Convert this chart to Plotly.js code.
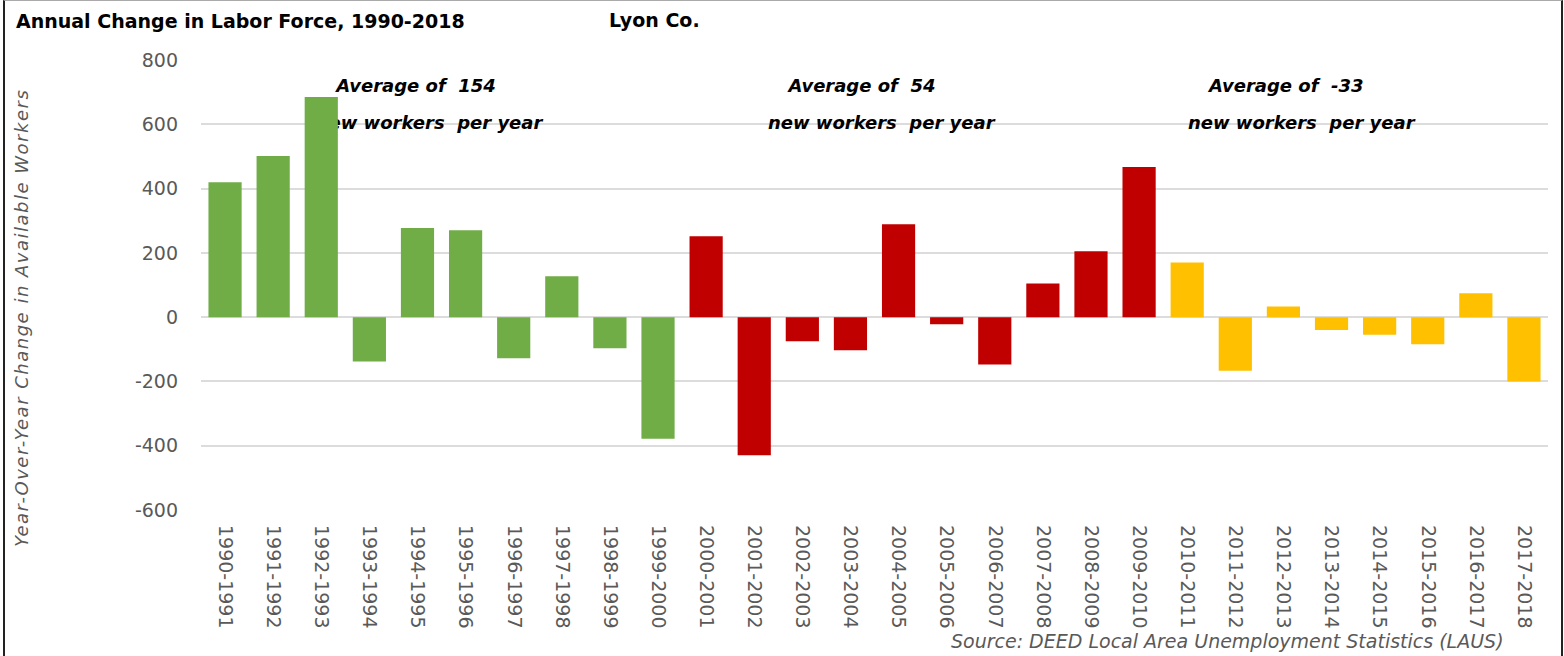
<!DOCTYPE html>
<html>
<head>
<meta charset="utf-8">
<script src="https://cdn.plot.ly/plotly-3.0.1.min.js"></script>
<style>
  body { margin: 0; background: #fff; }
  #chart { position: absolute; left: 0; top: 0; width: 1564px; height: 656px; }
  #frame {
    position: absolute; left: 3px; top: 0; width: 1556px; height: 660px;
    border-left: 2px solid #222; border-top: 1px solid #aaa; border-right: 2px solid #222;
    pointer-events: none;
  }
</style>
</head>
<body>
<div id="chart"></div>
<div id="frame"></div>
<script>
// year-over-year change in labor force, Lyon Co.
const periods = [
  "1990-1991", "1991-1992", "1992-1993", "1993-1994", "1994-1995",
  "1995-1996", "1996-1997", "1997-1998", "1998-1999", "1999-2000",
  "2000-2001", "2001-2002", "2002-2003", "2003-2004", "2004-2005",
  "2005-2006", "2006-2007", "2007-2008", "2008-2009", "2009-2010",
  "2010-2011", "2011-2012", "2012-2013", "2013-2014", "2014-2015",
  "2015-2016", "2016-2017", "2017-2018"
];
const changes = [
  420, 501, 685, -138, 277, 270, -128, 127, -97, -378,
  252, -430, -75, -103, 289, -22, -147, 105, 205, 467,
  170, -167, 33, -40, -55, -84, 74, -200
];
// bars per period group and their colours
const groupSizes = [10, 10, 8];
const groupColors = ["#70AD47", "#C00000", "#FFC000"];
const groupAverages = [154, 54, -33];

const yTicks = [-600, -400, -200, 0, 200, 400, 600, 800];
const yTickText = yTicks.map(v => String(v));

const idx = periods.map((p, i) => i);
const font = "DejaVu Sans";

const traces = [];
let start = 0;
groupSizes.forEach((n, g) => {
  traces.push({
    type: "bar",
    x: idx.slice(start, start + n),
    y: changes.slice(start, start + n),
    hovertext: periods.slice(start, start + n),
    hoverinfo: "text+y",
    textposition: "none",
    marker: { color: groupColors[g] },
    width: 0.69,
    xaxis: "x2",
    yaxis: "y2",
    showlegend: false
  });
  start += n;
});

// the "Average of" notes sit behind the bars, so they go on the main axes
// and the bars on an overlaying pair of axes
const noteX = [3.97, 4.24, 13.24, 13.64, 22.06, 22.37];
const noteY = [714, 598, 714, 598, 714, 598];
const noteText = [];
groupAverages.forEach(a => {
  noteText.push("<b><i>Average of&nbsp; " + a + "</i></b>");
  noteText.push("<b><i>new workers&nbsp; per year</i></b>");
});
traces.unshift({
  type: "scatter",
  mode: "text",
  x: noteX,
  y: noteY,
  text: noteText,
  textfont: { family: font, size: 18, color: "#000" },
  textposition: "middle center",
  hoverinfo: "skip",
  showlegend: false
});

const xr = [-0.5, periods.length - 0.5];
const yr = [-600, 800];

const layout = {
  width: 1564,
  height: 656,
  margin: { l: 201, r: 16, t: 60, b: 146 },
  paper_bgcolor: "#fff",
  plot_bgcolor: "#fff",
  barmode: "overlay",
  showlegend: false,
  title: {
    text: "<b>Annual Change in Labor Force, 1990-2018</b>",
    font: { family: font, size: 19, color: "#000" },
    x: 16 / 1564, xanchor: "left", xref: "container",
    y: 1 - 21 / 656, yanchor: "middle", yref: "container"
  },
  xaxis: {
    range: xr,
    tickvals: idx,
    ticktext: periods,
    tickangle: 90,
    tickfont: { family: font, size: 19, color: "#595959" },
    ticklabelstandoff: 14,
    showgrid: false,
    zeroline: false,
    showline: false,
    ticks: "",
    fixedrange: true
  },
  yaxis: {
    range: yr,
    tickvals: yTicks,
    ticktext: yTickText,
    tickfont: { family: font, size: 19, color: "#595959" },
    gridcolor: "#dcdcdc",
    gridwidth: 2,
    zeroline: true,
    zerolinecolor: "#dcdcdc",
    zerolinewidth: 2,
    showline: false,
    ticks: "",
    ticklabelstandoff: 22,
    fixedrange: true
  },
  xaxis2: { overlaying: "x", range: xr, visible: false, fixedrange: true },
  yaxis2: { overlaying: "y", range: yr, visible: false, fixedrange: true },
  annotations: [
    {
      text: "<i><span style='letter-spacing:1.5px'>Year-Over-Year Change in Available Workers</span></i>",
      xref: "paper", yref: "paper",
      x: (22 - 201) / 1347, y: (510 - 318) / 450,
      xanchor: "center", yanchor: "middle",
      textangle: -90,
      showarrow: false,
      font: { family: font, size: 18, color: "#595959" }
    },
    {
      text: "<b>Lyon Co.</b>",
      xref: "paper", yref: "paper",
      x: (607 - 201) / 1347, y: (510 - 20) / 450,
      xanchor: "left", yanchor: "middle",
      showarrow: false,
      font: { family: font, size: 19, color: "#000" }
    },
    {
      text: "<i>Source: DEED Local Area Unemployment Statistics (LAUS)</i>",
      xref: "paper", yref: "paper",
      x: (1506 - 201) / 1347, y: (510 - 641) / 450,
      xanchor: "right", yanchor: "middle",
      showarrow: false,
      font: { family: font, size: 19, color: "#595959" }
    }
  ]
};

Plotly.newPlot("chart", traces, layout, { displayModeBar: false, responsive: false });
</script>
</body>
</html>
